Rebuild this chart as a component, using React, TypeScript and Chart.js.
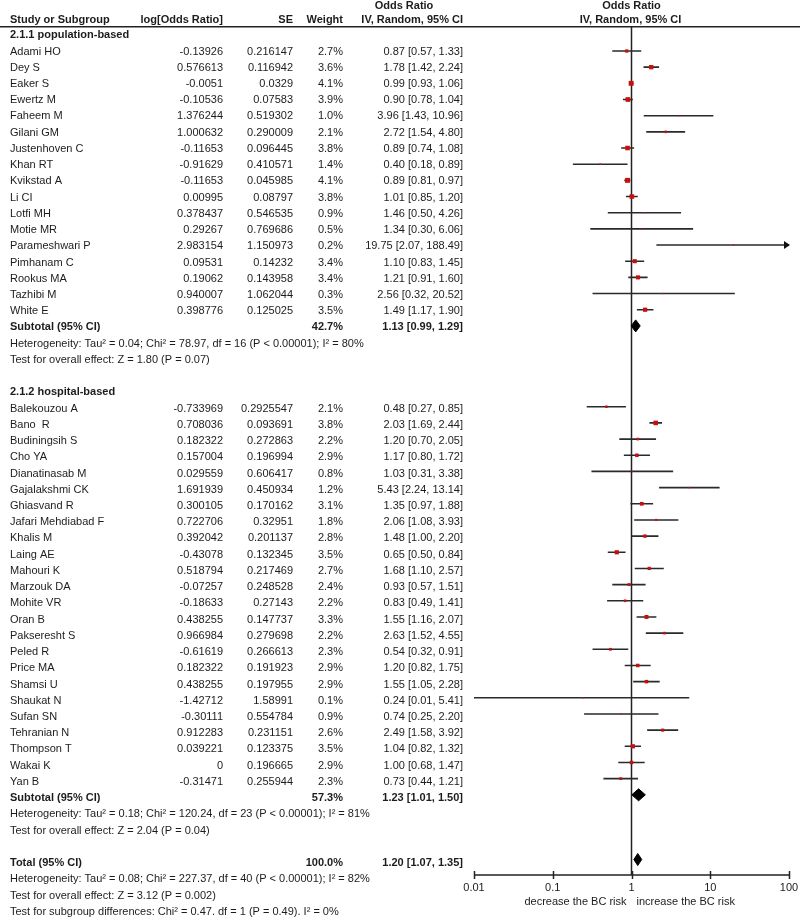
import React, { useEffect, useRef } from "react";
import { Chart, registerables } from "chart.js";

Chart.register(...registerables);

// ---------- Data ----------
const G1_TITLE = "2.1.1 population-based";
const G1_STUDIES = [
  "Adami HO", "Dey S", "Eaker S", "Ewertz M", "Faheem M", "Gilani GM", "Justenhoven C",
  "Khan RT", "Kvikstad A", "Li CI", "Lotfi MH", "Motie MR", "Parameshwari P",
  "Pimhanam C", "Rookus MA", "Tazhibi M", "White E",
];
const G1_LOGOR = [
  "-0.13926", "0.576613", "-0.0051", "-0.10536", "1.376244", "1.000632", "-0.11653",
  "-0.91629", "-0.11653", "0.00995", "0.378437", "0.29267", "2.983154",
  "0.09531", "0.19062", "0.940007", "0.398776",
];
const G1_SE = [
  "0.216147", "0.116942", "0.0329", "0.07583", "0.519302", "0.290009", "0.096445",
  "0.410571", "0.045985", "0.08797", "0.546535", "0.769686", "1.150973",
  "0.14232", "0.143958", "1.062044", "0.125025",
];
const G1_WEIGHT = [2.7, 3.6, 4.1, 3.9, 1.0, 2.1, 3.8, 1.4, 4.1, 3.8, 0.9, 0.5, 0.2, 3.4, 3.4, 0.3, 3.5];
const G1_OR = [0.87, 1.78, 0.99, 0.90, 3.96, 2.72, 0.89, 0.40, 0.89, 1.01, 1.46, 1.34, 19.75, 1.10, 1.21, 2.56, 1.49];
const G1_LO = [0.57, 1.42, 0.93, 0.78, 1.43, 1.54, 0.74, 0.18, 0.81, 0.85, 0.50, 0.30, 2.07, 0.83, 0.91, 0.32, 1.17];
const G1_HI = [1.33, 2.24, 1.06, 1.04, 10.96, 4.80, 1.08, 0.89, 0.97, 1.20, 4.26, 6.06, 188.49, 1.45, 1.60, 20.52, 1.90];
const G1_SUBTOTAL = [42.7, 1.13, 0.99, 1.29]; // weight, OR, lo, hi
const G1_NOTES = [
  "Heterogeneity: Tau\u00b2 = 0.04; Chi\u00b2 = 78.97, df = 16 (P < 0.00001); I\u00b2 = 80%",
  "Test for overall effect: Z = 1.80 (P = 0.07)",
];

const G2_TITLE = "2.1.2 hospital-based";
const G2_STUDIES = [
  "Balekouzou A", "Bano  R", "Budiningsih S", "Cho YA", "Dianatinasab M", "Gajalakshmi CK",
  "Ghiasvand R", "Jafari Mehdiabad F", "Khalis M", "Laing AE", "Mahouri K", "Marzouk DA",
  "Mohite VR", "Oran B", "Pakseresht S", "Peled R", "Price MA", "Shamsi U", "Shaukat N",
  "Sufan SN", "Tehranian N", "Thompson T", "Wakai K", "Yan B",
];
const G2_LOGOR = [
  "-0.733969", "0.708036", "0.182322", "0.157004", "0.029559", "1.691939",
  "0.300105", "0.722706", "0.392042", "-0.43078", "0.518794", "-0.07257",
  "-0.18633", "0.438255", "0.966984", "-0.61619", "0.182322", "0.438255", "-1.42712",
  "-0.30111", "0.912283", "0.039221", "0", "-0.31471",
];
const G2_SE = [
  "0.2925547", "0.093691", "0.272863", "0.196994", "0.606417", "0.450934",
  "0.170162", "0.32951", "0.201137", "0.132345", "0.217469", "0.248528",
  "0.27143", "0.147737", "0.279698", "0.266613", "0.191923", "0.197955", "1.58991",
  "0.554784", "0.231151", "0.123375", "0.196665", "0.255944",
];
const G2_WEIGHT = [2.1, 3.8, 2.2, 2.9, 0.8, 1.2, 3.1, 1.8, 2.8, 3.5, 2.7, 2.4, 2.2, 3.3, 2.2, 2.3, 2.9, 2.9, 0.1, 0.9, 2.6, 3.5, 2.9, 2.3];
const G2_OR = [0.48, 2.03, 1.20, 1.17, 1.03, 5.43, 1.35, 2.06, 1.48, 0.65, 1.68, 0.93, 0.83, 1.55, 2.63, 0.54, 1.20, 1.55, 0.24, 0.74, 2.49, 1.04, 1.00, 0.73];
const G2_LO = [0.27, 1.69, 0.70, 0.80, 0.31, 2.24, 0.97, 1.08, 1.00, 0.50, 1.10, 0.57, 0.49, 1.16, 1.52, 0.32, 0.82, 1.05, 0.01, 0.25, 1.58, 0.82, 0.68, 0.44];
const G2_HI = [0.85, 2.44, 2.05, 1.72, 3.38, 13.14, 1.88, 3.93, 2.20, 0.84, 2.57, 1.51, 1.41, 2.07, 4.55, 0.91, 1.75, 2.28, 5.41, 2.20, 3.92, 1.32, 1.47, 1.21];
const G2_SUBTOTAL = [57.3, 1.23, 1.01, 1.50];
const G2_NOTES = [
  "Heterogeneity: Tau\u00b2 = 0.18; Chi\u00b2 = 120.24, df = 23 (P < 0.00001); I\u00b2 = 81%",
  "Test for overall effect: Z = 2.04 (P = 0.04)",
];

const TOTAL = [100.0, 1.20, 1.07, 1.35];
const TOTAL_NOTES = [
  "Heterogeneity: Tau\u00b2 = 0.08; Chi\u00b2 = 227.37, df = 40 (P < 0.00001); I\u00b2 = 82%",
  "Test for overall effect: Z = 3.12 (P = 0.002)",
  "Test for subgroup differences: Chi\u00b2 = 0.47. df = 1 (P = 0.49). I\u00b2 = 0%",
];

const X_TICKS = [0.01, 0.1, 1, 10, 100];
const X_TICK_LABELS = ["0.01", "0.1", "1", "10", "100"];
const AXIS_LEFT_LABEL = "decrease the BC risk";
const AXIS_RIGHT_LABEL = "increase the BC risk";

// ---------- Layout constants ----------
const W = 800;
const H = 919;
const PLOT_LEFT = 474;
const PLOT_RIGHT = 789;
const PLOT_TOP = 27;
const PLOT_BOTTOM = 875;
const ROW0_PX = 34.83;
const ROW_PITCH = 16.17;
const TEXT0_PX = 35.3;
const TEXT_PITCH = 16.23;
const DIAMOND_HALF = 6 / ROW_PITCH;

const FONT = '11px "Liberation Sans", Arial, sans-serif';
const FONT_B = 'bold 11px "Liberation Sans", Arial, sans-serif';
const TEXT_COLOR = "#1c1c1c";

type Row =
  | { kind: "group"; text: string }
  | { kind: "study"; name: string; logor: string; se: string; w: number; or: number; lo: number; hi: number }
  | { kind: "sub"; label: string; w: number; or: number; lo: number; hi: number }
  | { kind: "note"; text: string }
  | { kind: "blank" };

function buildRows(): Row[] {
  const rows: Row[] = [];
  const addGroup = (title: string, names: string[], logs: string[], ses: string[], ws: number[], ors: number[], los: number[], his: number[], sub: number[], notes: string[]) => {
    rows.push({ kind: "group", text: title });
    names.forEach((n, i) => rows.push({ kind: "study", name: n, logor: logs[i], se: ses[i], w: ws[i], or: ors[i], lo: los[i], hi: his[i] }));
    rows.push({ kind: "sub", label: "Subtotal (95% CI)", w: sub[0], or: sub[1], lo: sub[2], hi: sub[3] });
    notes.forEach((t) => rows.push({ kind: "note", text: t }));
    rows.push({ kind: "blank" });
  };
  addGroup(G1_TITLE, G1_STUDIES, G1_LOGOR, G1_SE, G1_WEIGHT, G1_OR, G1_LO, G1_HI, G1_SUBTOTAL, G1_NOTES);
  addGroup(G2_TITLE, G2_STUDIES, G2_LOGOR, G2_SE, G2_WEIGHT, G2_OR, G2_LO, G2_HI, G2_SUBTOTAL, G2_NOTES);
  rows.push({ kind: "sub", label: "Total (95% CI)", w: TOTAL[0], or: TOTAL[1], lo: TOTAL[2], hi: TOTAL[3] });
  TOTAL_NOTES.forEach((t) => rows.push({ kind: "note", text: t }));
  return rows;
}

const ciText = (or: number, lo: number, hi: number) => `${or.toFixed(2)} [${lo.toFixed(2)}, ${hi.toFixed(2)}]`;

export default function App() {
  const ref = useRef<HTMLCanvasElement | null>(null);

  useEffect(() => {
    const canvas = ref.current;
    if (!canvas) return;
    const rows = buildRows();

    const pointData: { x: number; y: number }[] = [];
    const pointRadius: number[] = [];
    const ciData: { x: number; y: number }[] = [];
    const diamonds: { x: number; y: number }[][] = [];
    rows.forEach((r, i) => {
      if (r.kind === "study") {
        pointData.push({ x: r.or, y: i });
        const side = Math.max(1.3, r.w * 1.2);
        pointRadius.push(side / Math.SQRT2);
        ciData.push({ x: r.lo, y: i }, { x: r.hi, y: i }, { x: NaN, y: NaN });
      } else if (r.kind === "sub") {
        diamonds.push([
          { x: r.lo, y: i },
          { x: r.or, y: i - DIAMOND_HALF },
          { x: r.hi, y: i },
          { x: r.or, y: i + DIAMOND_HALF },
          { x: r.lo, y: i },
        ]);
      }
    });

    const yMin = (PLOT_TOP - ROW0_PX) / ROW_PITCH;
    const yMax = (PLOT_BOTTOM - ROW0_PX) / ROW_PITCH;

    const bgPlugin = {
      id: "bg",
      beforeDraw(chart: any) {
        const c = chart.ctx;
        c.save();
        c.fillStyle = "#fff";
        c.fillRect(0, 0, chart.width, chart.height);
        c.restore();
      },
    };

    const tablePlugin = {
      id: "table",
      afterDraw(chart: any) {
        const c: CanvasRenderingContext2D = chart.ctx;
        const xs = chart.scales.x;
        const ys = chart.scales.y;
        const area = chart.chartArea;
        c.save();
        c.fillStyle = TEXT_COLOR;
        c.textBaseline = "middle";

        // header
        c.font = FONT_B;
        c.textAlign = "left";
        c.fillText("Study or Subgroup", 10, 20);
        c.textAlign = "right";
        c.fillText("log[Odds Ratio]", 223, 20);
        c.fillText("SE", 293, 20);
        c.fillText("Weight", 343, 20);
        c.fillText("IV, Random, 95% CI", 463, 20);
        c.textAlign = "center";
        c.fillText("Odds Ratio", 404, 6);
        const xOne = xs.getPixelForValue(1);
        c.fillText("Odds Ratio", xOne, 6);
        c.fillText("IV, Random, 95% CI", xOne - 1, 20);

        // header rule
        c.strokeStyle = "#222";
        c.lineWidth = 1.5;
        c.beginPath();
        c.moveTo(0, 26.75);
        c.lineTo(W, 26.75);
        c.stroke();

        // rows
        rows.forEach((r, i) => {
          const y = TEXT0_PX + i * TEXT_PITCH;
          if (r.kind === "group") {
            c.font = FONT_B;
            c.textAlign = "left";
            c.fillText(r.text, 10, y);
          } else if (r.kind === "study") {
            c.font = FONT;
            c.textAlign = "left";
            c.fillText(r.name, 10, y);
            c.textAlign = "right";
            c.fillText(r.logor, 223, y);
            c.fillText(r.se, 293, y);
            c.fillText(r.w.toFixed(1) + "%", 343, y);
            c.fillText(ciText(r.or, r.lo, r.hi), 463, y);
          } else if (r.kind === "sub") {
            c.font = FONT_B;
            c.textAlign = "left";
            c.fillText(r.label, 10, y);
            c.textAlign = "right";
            c.fillText(r.w.toFixed(1) + "%", 343, y);
            c.fillText(ciText(r.or, r.lo, r.hi), 463, y);
          } else if (r.kind === "note") {
            c.font = FONT;
            c.textAlign = "left";
            c.fillText(r.text, 10, y);
          }
        });

        // axis
        const ay = area.bottom;
        c.strokeStyle = "#222";
        c.lineWidth = 1.5;
        c.beginPath();
        c.moveTo(xs.getPixelForValue(X_TICKS[0]), ay);
        c.lineTo(xs.getPixelForValue(X_TICKS[X_TICKS.length - 1]), ay);
        X_TICKS.forEach((t) => {
          const px = Math.round(xs.getPixelForValue(t)) + 0.5;
          c.moveTo(px, ay - 4);
          c.lineTo(px, ay + 4);
        });
        c.stroke();
        c.font = FONT;
        c.textAlign = "center";
        X_TICKS.forEach((t, k) => {
          c.fillText(X_TICK_LABELS[k], xs.getPixelForValue(t), ay + 13);
        });
        c.textAlign = "right";
        c.fillText(AXIS_LEFT_LABEL, xOne - 5, ay + 27);
        c.textAlign = "left";
        c.fillText(AXIS_RIGHT_LABEL, xOne + 5, ay + 27);

        // arrowheads for CIs beyond the axis
        c.fillStyle = "#111";
        rows.forEach((r, i) => {
          if (r.kind === "study" && r.hi > X_TICKS[X_TICKS.length - 1]) {
            const ax = xs.getPixelForValue(X_TICKS[X_TICKS.length - 1]) + 1;
            const py = ys.getPixelForValue(i);
            c.beginPath();
            c.moveTo(ax, py);
            c.lineTo(ax - 6, py - 4);
            c.lineTo(ax - 6, py + 4);
            c.closePath();
            c.fill();
          }
        });
        c.restore();
      },
    };

    const datasets: any[] = [
      {
        label: "points",
        data: pointData,
        pointStyle: "rect",
        pointRadius,
        backgroundColor: "#c80f0f",
        borderWidth: 0,
        showLine: false,
        order: 0,
      },
      ...diamonds.map((d, k) => ({
        label: "diamond" + k,
        data: d,
        showLine: true,
        fill: "shape",
        backgroundColor: "#000",
        borderColor: "#000",
        borderWidth: 1,
        pointRadius: 0,
        order: 1,
      })),
      {
        label: "ci",
        data: ciData,
        showLine: true,
        spanGaps: false,
        borderColor: "#2a2a2a",
        borderWidth: 1.6,
        pointRadius: 0,
        order: 2,
      },
      {
        label: "null",
        data: [
          { x: 1, y: yMin },
          { x: 1, y: yMax },
        ],
        showLine: true,
        borderColor: "#222",
        borderWidth: 1.5,
        pointRadius: 0,
        order: 3,
      },
    ];

    const chart = new Chart(canvas, {
      type: "scatter",
      data: { datasets },
      options: {
        animation: false,
        responsive: false,
        maintainAspectRatio: false,
        devicePixelRatio: 1,
        events: [],
        layout: { padding: { left: PLOT_LEFT, right: W - PLOT_RIGHT, top: PLOT_TOP, bottom: H - PLOT_BOTTOM } },
        plugins: { legend: { display: false }, tooltip: { enabled: false }, title: { display: false } },
        scales: {
          x: { type: "logarithmic", min: X_TICKS[0], max: X_TICKS[X_TICKS.length - 1], display: false },
          y: { type: "linear", min: yMin, max: yMax, reverse: true, display: false },
        },
      } as any,
      plugins: [bgPlugin, tablePlugin],
    });
    return () => chart.destroy();
  }, []);

  return (
    <div style={{ position: "absolute", left: 0, top: 0, width: W, height: H, background: "#fff" }}>
      <canvas ref={ref} width={W} height={H} style={{ width: W, height: H, display: "block" }} />
    </div>
  );
}
